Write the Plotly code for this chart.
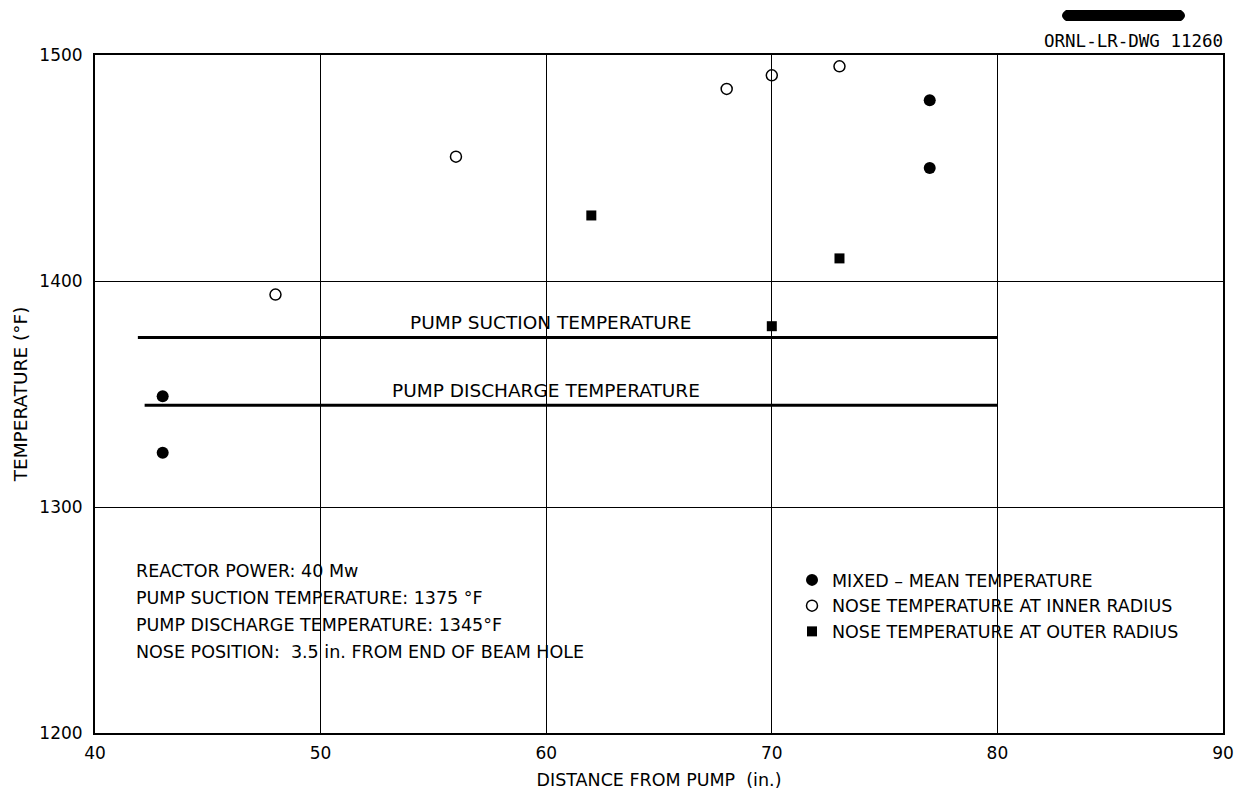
import plotly.graph_objects as go

# Data
mixed_x = [43, 43, 77, 77]
mixed_y = [1349, 1324, 1480, 1450]

inner_x = [48, 56, 68, 70, 73]
inner_y = [1394, 1455, 1485, 1491, 1495]

outer_x = [62, 70, 73]
outer_y = [1429, 1380, 1410]

suction_x = [41.9, 80]
suction_y = [1375, 1375]
discharge_x = [42.2, 80]
discharge_y = [1345, 1345]

x_ticks = [40, 50, 60, 70, 80, 90]
y_ticks = [1200, 1300, 1400, 1500]

info_lines = [
    "REACTOR POWER: 40 Mw",
    "PUMP SUCTION TEMPERATURE: 1375 °F",
    "PUMP DISCHARGE TEMPERATURE: 1345°F",
    "NOSE POSITION:  3.5 in. FROM END OF BEAM HOLE",
]

FONT = "DejaVu Sans, Verdana, sans-serif"

fig = go.Figure()

fig.add_trace(go.Scatter(x=suction_x, y=suction_y, mode="lines",
                         line=dict(color="black", width=3), showlegend=False, hoverinfo="skip"))
fig.add_trace(go.Scatter(x=discharge_x, y=discharge_y, mode="lines",
                         line=dict(color="black", width=3), showlegend=False, hoverinfo="skip"))

fig.add_trace(go.Scatter(x=mixed_x, y=mixed_y, mode="markers", name="MIXED – MEAN TEMPERATURE",
                         legendgroup="a",
                         marker=dict(symbol="circle", size=12, color="black")))
fig.add_trace(go.Scatter(x=inner_x, y=inner_y, mode="markers", name="NOSE TEMPERATURE AT INNER RADIUS",
                         legendgroup="b",
                         marker=dict(symbol="circle-open", size=11, color="black", line=dict(width=1.5))))
fig.add_trace(go.Scatter(x=outer_x, y=outer_y, mode="markers", name="NOSE TEMPERATURE AT OUTER RADIUS",
                         legendgroup="c",
                         marker=dict(symbol="square", size=10, color="black")))

# Line labels
fig.add_annotation(x=60.2, y=1375, yshift=15, text="PUMP SUCTION TEMPERATURE", showarrow=False,
                   xanchor="center", yanchor="middle", font=dict(family=FONT, size=18.5, color="black"))
fig.add_annotation(x=60.0, y=1345, yshift=15, text="PUMP DISCHARGE TEMPERATURE", showarrow=False,
                   xanchor="center", yanchor="middle", font=dict(family=FONT, size=18.5, color="black"))

# Info block
for i, line in enumerate(info_lines):
    fig.add_annotation(xref="paper", yref="paper", x=(137 - 95) / 1128, y=(733 - (571 + 27 * i)) / 678,
                       text=line, showarrow=False, xanchor="left", yanchor="middle", xshift=-3,
                       font=dict(family=FONT, size=17.5, color="black"))

# Drawing number
fig.add_annotation(xref="paper", yref="paper", x=1.0, y=(733 - 41) / 678, text="ORNL-LR-DWG 11260",
                   showarrow=False, xanchor="right", yanchor="middle", xshift=2,
                   font=dict(family="DejaVu Sans Mono, monospace", size=17.5, color="black"))
fig.add_shape(type="path", xref="paper", yref="paper",
              path="M {a},{b} L {c},{b} Q {d},{m} {c},{t} L {a},{t} Q {e},{m} {a},{b} Z".format(
                  a=(1066 - 95) / 1128, c=(1181 - 95) / 1128, d=(1189 - 95) / 1128, e=(1058 - 95) / 1128,
                  b=(733 - 21) / 678, t=(733 - 10) / 678, m=(733 - 15.5) / 678),
              fillcolor="black", line=dict(width=0), layer="above")

fig.update_layout(
    width=1244, height=790,
    margin=dict(l=95, r=21, t=55, b=57),
    paper_bgcolor="white", plot_bgcolor="white",
    font=dict(family=FONT, size=17, color="black"),
    legend=dict(x=(792 - 95) / 1128, y=(733 - 562) / 678, xanchor="left", yanchor="top",
                bgcolor="rgba(0,0,0,0)", font=dict(family=FONT, size=17.5, color="black"),
                tracegroupgap=0, itemwidth=30),
    xaxis=dict(range=[40, 90], tickvals=x_ticks, ticktext=[str(v) for v in x_ticks],
               showgrid=True, gridcolor="black", gridwidth=1, zeroline=False, automargin=False,
               showline=True, linecolor="black", linewidth=2, mirror=True, ticks="",
               ticklabelstandoff=4,
               tickfont=dict(size=17), title=dict(text="DISTANCE FROM PUMP  (in.)", standoff=11,
                                                  font=dict(size=17.5))),
    yaxis=dict(range=[1200, 1500], tickvals=y_ticks, ticktext=[str(v) for v in y_ticks],
               showgrid=True, gridcolor="black", gridwidth=1, zeroline=False, automargin=False,
               showline=True, linecolor="black", linewidth=2, mirror=True, ticks="",
               ticklabelstandoff=7,
               tickfont=dict(size=17), title=dict(text="TEMPERATURE (°F)", standoff=7,
                                                  font=dict(size=18.5))),
)

fig.write_html("out.html")
